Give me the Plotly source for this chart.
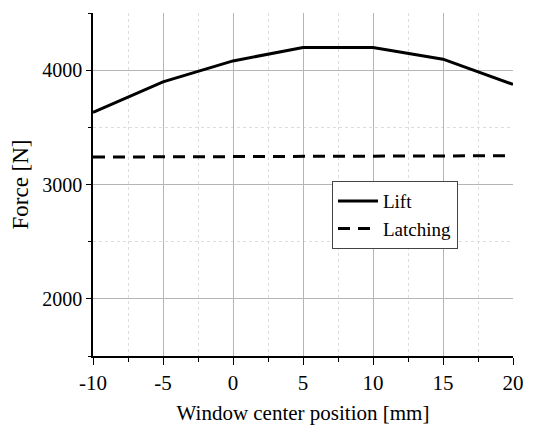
import plotly.graph_objects as go

positions = [-10, -5, 0, 5, 10, 15, 20]
lift = [3630, 3898, 4081, 4198, 4198, 4096, 3875]
latching = [3240, 3241, 3242, 3246, 3248, 3251, 3252]

font_family = "Liberation Serif, Times New Roman, serif"

fig = go.Figure()
fig.add_trace(go.Scatter(x=positions, y=lift, mode="lines", name="Lift",
                         line=dict(color="black", width=3)))
fig.add_trace(go.Scatter(x=positions, y=latching, mode="lines", name="Latching",
                         line=dict(color="black", width=3, dash="12px,8px")))

fig.update_layout(
    width=541, height=426,
    margin=dict(l=85, r=36, t=5, b=78),
    paper_bgcolor="white", plot_bgcolor="white",
    font=dict(family=font_family, color="black", size=20),
    showlegend=True,
    legend=dict(x=0.569, y=0.51, xanchor="left", yanchor="top",
                bordercolor="#444", borderwidth=1, bgcolor="white",
                font=dict(size=19, family=font_family, color="black"), tracegroupgap=0,
                itemwidth=40),
    xaxis=dict(
        range=[-10, 20], tickmode="array", tickvals=[-10, -5, 0, 5, 10, 15, 20],
        ticktext=["-10", "-5", "0", "5", "10", "15", "20"],
        showline=True, linecolor="black", linewidth=1.5,
        ticks="outside", ticklen=7, tickwidth=1.2, tickcolor="black",
        showgrid=True, gridcolor="#b5b5b5", gridwidth=1,
        minor=dict(dtick=2.5, tick0=-10, ticks="outside", ticklen=4, tickcolor="black",
                   showgrid=True, gridcolor="#dddddd", griddash="dot", gridwidth=1),
        tickfont=dict(size=21, color="black"), zeroline=False,
        title=dict(text="Window center position [mm]", font=dict(size=21, color="black"), standoff=11),
    ),
    yaxis=dict(
        range=[1500, 4500], tickmode="array", tickvals=[2000, 3000, 4000],
        showline=True, linecolor="black", linewidth=1.5,
        ticks="outside", ticklen=5, tickwidth=1.2, tickcolor="black",
        showgrid=True, gridcolor="#b5b5b5", gridwidth=1,
        minor=dict(dtick=500, tick0=1500, ticks="outside", ticklen=3, tickcolor="black",
                   showgrid=True, gridcolor="#dddddd", griddash="dot", gridwidth=1),
        tickfont=dict(size=20, color="black"), zeroline=False,
        title=dict(text="Force [N]", font=dict(size=23, color="black"), standoff=12),
    ),
)

fig.write_html("out.html")
